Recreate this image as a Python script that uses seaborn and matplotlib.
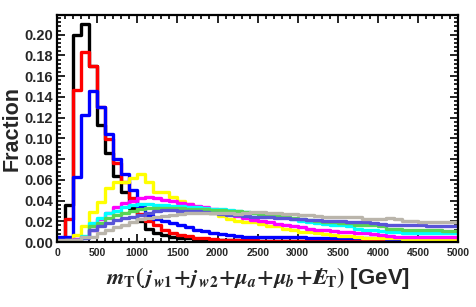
import numpy as np
import pandas as pd
import matplotlib
import matplotlib.pyplot as plt
import seaborn as sns
from matplotlib.ticker import MultipleLocator, FormatStrFormatter

plt.switch_backend('Agg')

# ---- data : fraction per 100 GeV bin, 0 -> 5000 GeV ----
bin_edges = list(range(0, 5001, 100))

frac_black = [0.001, 0.036, 0.200, 0.210, 0.170, 0.113, 0.086, 0.064, 0.048, 0.033,
              0.020, 0.013, 0.009, 0.007, 0.005, 0.004, 0.004, 0.003, 0.003, 0.002,
              0.002, 0.002, 0.002, 0.002, 0.001, 0.001, 0.001, 0.001, 0.001, 0.001,
              0.001, 0.001, 0.001, 0.001, 0.001, 0.001, 0.001, 0.001, 0.001, 0.001,
              0.001, 0.001, 0.001, 0.001, 0.001, 0.001, 0.001, 0.001, 0.001, 0.001]
frac_red = [0.003, 0.022, 0.147, 0.183, 0.170, 0.130, 0.099, 0.076, 0.058, 0.042,
            0.027, 0.020, 0.016, 0.012, 0.009, 0.007, 0.006, 0.004, 0.004, 0.003,
            0.002, 0.002, 0.002, 0.002, 0.002, 0.001, 0.001, 0.001, 0.001, 0.001,
            0.001, 0.001, 0.001, 0.001, 0.001, 0.001, 0.001, 0.001, 0.001, 0.001,
            0.001, 0.001, 0.001, 0.001, 0.001, 0.001, 0.001, 0.001, 0.001, 0.001]
frac_blue = [0.005, 0.005, 0.063, 0.123, 0.146, 0.130, 0.104, 0.080, 0.066, 0.050,
             0.034, 0.026, 0.022, 0.020, 0.018, 0.016, 0.014, 0.012, 0.011, 0.009,
             0.008, 0.007, 0.006, 0.005, 0.005, 0.005, 0.005, 0.005, 0.005, 0.005,
             0.005, 0.004, 0.004, 0.004, 0.004, 0.004, 0.004, 0.004, 0.004, 0.004,
             0.004, 0.003, 0.003, 0.003, 0.003, 0.003, 0.003, 0.003, 0.003, 0.003]
frac_yellow = [0.000, 0.002, 0.007, 0.015, 0.029, 0.039, 0.052, 0.058, 0.058, 0.062,
               0.066, 0.058, 0.048, 0.048, 0.043, 0.040, 0.037, 0.034, 0.031, 0.028,
               0.025, 0.022, 0.020, 0.019, 0.019, 0.017, 0.015, 0.015, 0.013, 0.012,
               0.010, 0.010, 0.009, 0.008, 0.007, 0.006, 0.006, 0.005, 0.004, 0.004,
               0.004, 0.004, 0.004, 0.003, 0.003, 0.003, 0.003, 0.003, 0.003, 0.003]
frac_magenta = [0.000, 0.001, 0.003, 0.005, 0.012, 0.022, 0.028, 0.034, 0.038, 0.040,
                0.042, 0.043, 0.042, 0.041, 0.040, 0.038, 0.037, 0.035, 0.034, 0.032,
                0.030, 0.028, 0.025, 0.023, 0.021, 0.020, 0.019, 0.017, 0.016, 0.015,
                0.014, 0.013, 0.012, 0.012, 0.011, 0.010, 0.010, 0.009, 0.009, 0.008,
                0.007, 0.006, 0.005, 0.005, 0.005, 0.005, 0.005, 0.005, 0.005, 0.005]
frac_cyan = [0.000, 0.001, 0.002, 0.006, 0.018, 0.023, 0.028, 0.030, 0.034, 0.036,
             0.037, 0.037, 0.036, 0.036, 0.035, 0.035, 0.034, 0.034, 0.033, 0.032,
             0.032, 0.031, 0.030, 0.029, 0.028, 0.027, 0.026, 0.025, 0.024, 0.022,
             0.020, 0.019, 0.018, 0.017, 0.016, 0.016, 0.015, 0.013, 0.012, 0.012,
             0.011, 0.010, 0.010, 0.009, 0.009, 0.009, 0.009, 0.009, 0.009, 0.009]
frac_green = [0.000, 0.001, 0.002, 0.005, 0.015, 0.018, 0.023, 0.026, 0.028, 0.030,
              0.032, 0.033, 0.033, 0.033, 0.033, 0.033, 0.032, 0.032, 0.032, 0.031,
              0.031, 0.030, 0.030, 0.029, 0.028, 0.027, 0.026, 0.025, 0.024, 0.023,
              0.022, 0.021, 0.020, 0.019, 0.019, 0.018, 0.018, 0.016, 0.016, 0.016,
              0.015, 0.013, 0.013, 0.012, 0.012, 0.012, 0.012, 0.012, 0.011, 0.011]
frac_slate = [0.000, 0.001, 0.002, 0.004, 0.012, 0.015, 0.018, 0.021, 0.023, 0.024,
              0.026, 0.028, 0.030, 0.031, 0.031, 0.030, 0.030, 0.030, 0.029, 0.028,
              0.027, 0.026, 0.026, 0.025, 0.024, 0.024, 0.024, 0.023, 0.023, 0.022,
              0.022, 0.021, 0.021, 0.020, 0.020, 0.020, 0.019, 0.019, 0.019, 0.018,
              0.017, 0.016, 0.016, 0.016, 0.016, 0.016, 0.015, 0.015, 0.015, 0.015]
frac_gray = [0.002, 0.002, 0.002, 0.005, 0.005, 0.009, 0.012, 0.014, 0.016, 0.019,
             0.022, 0.023, 0.024, 0.025, 0.026, 0.027, 0.028, 0.028, 0.028, 0.028,
             0.028, 0.028, 0.027, 0.028, 0.029, 0.029, 0.028, 0.028, 0.027, 0.027,
             0.026, 0.026, 0.025, 0.024, 0.024, 0.024, 0.024, 0.024, 0.022, 0.022,
             0.022, 0.023, 0.022, 0.020, 0.020, 0.019, 0.019, 0.019, 0.019, 0.019]

series_names = ['black', 'red', 'blue', 'yellow', 'magenta', 'cyan', 'green', 'slate', 'gray']
series_values = [frac_black, frac_red, frac_blue, frac_yellow, frac_magenta,
                 frac_cyan, frac_green, frac_slate, frac_gray]
series_colors = ['#000000', '#ff0000', '#0000ff', '#ffff00', '#ff00ff',
                 '#00ffff', '#59d454', '#5954d8', '#bab5ab']

# ---- style ----
sns.set_style('ticks')
plt.rcParams['font.family'] = ['Liberation Sans', 'DejaVu Sans']
plt.rcParams['font.weight'] = 'bold'
plt.rcParams['mathtext.fontset'] = 'stix'

fig = plt.figure(figsize=(4.77, 3.07), dpi=100)
ax = fig.add_axes([0.1195, 0.2117, 0.8412, 0.7394])

centers = [e + 50 for e in bin_edges[:-1]]
for name, vals, colr in zip(series_names, series_values, series_colors):
    df = pd.DataFrame({'mt': centers, 'frac': vals})
    sns.histplot(data=df, x='mt', weights='frac', bins=bin_edges, element='step',
                 fill=False, color=colr, linewidth=2.4, ax=ax)

ax.set_xlim(0, 5000)
ax.set_ylim(0, 0.219)

ax.xaxis.set_major_locator(MultipleLocator(500))
ax.xaxis.set_minor_locator(MultipleLocator(100))
ax.yaxis.set_major_locator(MultipleLocator(0.02))
ax.yaxis.set_minor_locator(MultipleLocator(0.004))
ax.yaxis.set_major_formatter(FormatStrFormatter('%.2f'))

ax.tick_params(which='both', direction='in', top=True, right=True, width=1.2, color='black')
ax.tick_params(which='major', length=5.5)
ax.tick_params(which='minor', length=3)
ax.tick_params(axis='y', labelsize=10.5, pad=3)
ax.tick_params(axis='x', labelsize=7.5, pad=4)
for lab in ax.get_xticklabels() + ax.get_yticklabels():
    lab.set_fontweight('bold')
for sp in ax.spines.values():
    sp.set_linewidth(1.6)
    sp.set_color('black')

ax.set_ylabel('Fraction', fontsize=15.5, fontweight='bold', labelpad=1)
# slashed E_T built from an E with an overlaid slash
ax.set_xlabel(r'$m_{\mathrm{T}}(\,j_{\,w\mathbf{1}}\!+\!j_{\,w\mathbf{2}}\!+\!\mu_{a}\!+\!\mu_{b}\!+\!E\!\!\!\!/\,_{\mathrm{T}})$ [GeV]',
              fontsize=16, fontweight='bold', labelpad=5)

fig.savefig('out.png', dpi=100)
